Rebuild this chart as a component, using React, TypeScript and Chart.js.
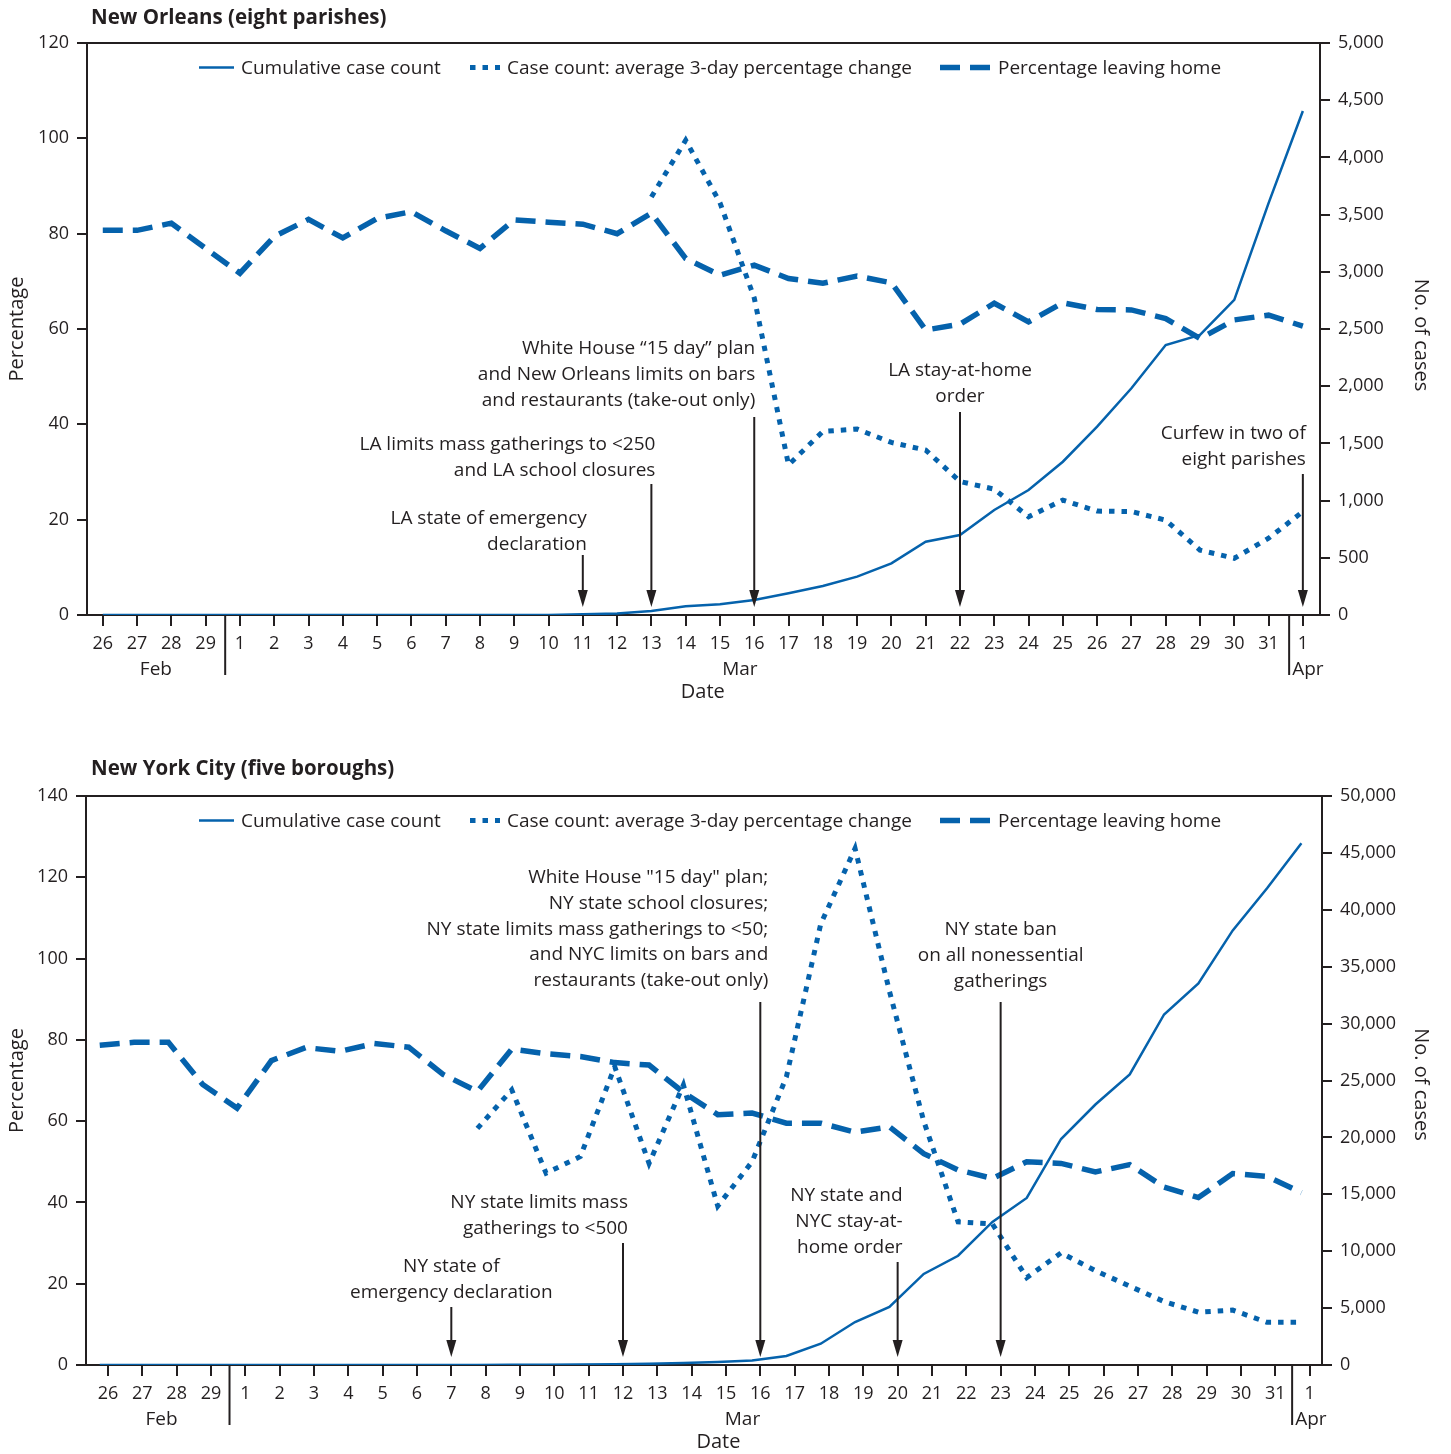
import React, { useEffect, useRef } from 'react';
import { Chart, registerables } from 'chart.js';

Chart.register(...registerables);

const FONT = '"Open Sans", sans-serif';
const INK = '#231f20';
const BLUE = '#0562ac';
const W = 1451;
const H = 727;

Chart.defaults.font.family = FONT;

// ---------- data ----------
const dateLabels = [
  '26', '27', '28', '29',
  '1', '2', '3', '4', '5', '6', '7', '8', '9', '10', '11', '12', '13', '14', '15', '16',
  '17', '18', '19', '20', '21', '22', '23', '24', '25', '26', '27', '28', '29', '30', '31',
  '1',
];
const seriesLabels = [
  'Cumulative case count',
  'Case count: average 3-day percentage change',
  'Percentage leaving home',
];

const noCumulative = [
  0, 0, 0, 0, 0, 0, 0, 0, 0, 0, 0, 0,
  1, 1, 7, 13, 36, 77, 93, 131, 190, 253, 335, 452, 641, 699, 918, 1093,
  1340, 1646, 1982, 2360, 2448, 2754, 3601, 4406,
];
const noChange: (number | null)[] = [
  null, null, null, null, null, null, null, null, null, null, null, null, null, null, null, null,
  87.7, 99.6, 86.5, 66.5, 31.5, 38.5, 39.0, 36.2, 34.6, 28.0, 26.4, 20.6, 24.1, 21.8, 21.7,
  19.9, 13.6, 11.9, 16.1, 21.7,
];
const noLeaving = [
  80.7, 80.7, 82.2, 76.9, 71.7, 79.4, 83.0, 79.1, 83.2, 84.6, 80.6, 76.9, 82.9, 82.4, 82.0,
  80.0, 84.3, 74.8, 71.3, 73.4, 70.6, 69.6, 71.1, 69.7, 59.8, 61.0, 65.4, 61.5, 65.5, 64.1,
  64.0, 62.2, 58.0, 61.9, 62.9, 60.6,
];

const nycCumulative = [
  0, 0, 0, 0, 0, 0, 1, 1, 2, 3, 5, 8, 12, 20, 36, 60, 110, 170, 270, 400,
  790, 1870, 3780, 5110, 8000, 9600, 12570, 14680, 19860, 22890, 25540, 30800,
  33530, 38190, 41900, 45850,
];
const nycChange: (number | null)[] = [
  null, null, null, null, null, null, null, null, null, null, null,
  58.2, 67.7, 47.2, 51.3, 73.4, 49.6, 68.9, 39.1, 50.0, 70.9, 108.5, 127.1, 92.0, 60.0,
  35.2, 34.7, 21.5, 27.6, 23.2, 19.4, 15.6, 13.0, 13.5, 10.5, 10.5,
];
const nycLeaving = [
  78.7, 79.4, 79.4, 69.0, 63.2, 74.9, 78.1, 77.2, 79.1, 78.2, 71.5, 67.3, 77.7, 76.6, 75.9,
  74.4, 73.8, 67.1, 61.6, 62.0, 59.5, 59.5, 57.3, 58.6, 52.0, 48.0, 45.9, 50.0, 49.6, 47.5,
  49.3, 43.8, 41.2, 47.1, 46.4, 42.4,
];

type Note = { at: number; lines: string[] };
const noNotes: Note[] = [
  { at: 14, lines: ['LA state of emergency', 'declaration'] },
  { at: 16, lines: ['LA limits mass gatherings to <250', 'and LA school closures'] },
  { at: 19, lines: ['White House \u201c15 day\u201d plan', 'and New Orleans limits on bars', 'and restaurants (take-out only)'] },
  { at: 25, lines: ['LA stay-at-home', 'order'] },
  { at: 35, lines: ['Curfew in two of', 'eight parishes'] },
];
const nycNotes: Note[] = [
  { at: 10, lines: ['NY state of', 'emergency declaration'] },
  { at: 15, lines: ['NY state limits mass', 'gatherings to <500'] },
  { at: 19, lines: ['White House "15 day" plan;', 'NY state school closures;', 'NY state limits mass gatherings to <50;', 'and NYC limits on bars and', 'restaurants (take-out only)'] },
  { at: 23, lines: ['NY state and', 'NYC stay-at-', 'home order'] },
  { at: 26, lines: ['NY state ban', 'on all nonessential', 'gatherings'] },
];

// ---------- layout (positions / styles) ----------
type NoteLayout = { y: number; align: CanvasTextAlign; dx: number; arrowTop: number };
const noNoteLayout: NoteLayout[] = [
  { y: 519, align: 'right', dx: 4, arrowTop: 555 },
  { y: 445, align: 'right', dx: 4, arrowTop: 484 },
  { y: 349, align: 'right', dx: 1, arrowTop: 417 },
  { y: 371, align: 'center', dx: 0, arrowTop: 412 },
  { y: 434, align: 'right', dx: 3, arrowTop: 474 },
];
const nycNoteLayout: NoteLayout[] = [
  { y: 540, align: 'center', dx: 0, arrowTop: 580 },
  { y: 476, align: 'right', dx: 5, arrowTop: 516 },
  { y: 151, align: 'right', dx: 8, arrowTop: 275 },
  { y: 469, align: 'right', dx: 5, arrowTop: 535 },
  { y: 203, align: 'center', dx: 0, arrowTop: 275 },
];

interface Panel {
  title: string;
  titleY: number;
  cumulative: number[];
  change: (number | null)[];
  leaving: number[];
  pctMax: number;
  caseMax: number;
  caseStep: number;
  notes: Note[];
  noteLayout: NoteLayout[];
  area: { top: number; left: number; right: number; bottom: number };
  tickRange: [number, number];
  dataRange: [number, number];
  febAt: number;
  marAt: number;
  dateAt: number;
  seps: [number, number];
  rightTitleDy: number;
}

const orleans: Panel = {
  title: 'New Orleans (eight parishes)',
  titleY: 18,
  cumulative: noCumulative,
  change: noChange,
  leaving: noLeaving,
  pctMax: 120,
  caseMax: 5000,
  caseStep: 500,
  notes: noNotes,
  noteLayout: noNoteLayout,
  area: { top: 43, left: 87, right: 1320, bottom: 615 },
  tickRange: [-0.46, 35.5],
  dataRange: [-0.46, 35.5],
  febAt: 1.55,
  marAt: 18.58,
  dateAt: 17.5,
  seps: [3.57, 34.6],
  rightTitleDy: 6,
};

const nyc: Panel = {
  title: 'New York City (five boroughs)',
  titleY: 42,
  cumulative: nycCumulative,
  change: nycChange,
  leaving: nycLeaving,
  pctMax: 140,
  caseMax: 50000,
  caseStep: 5000,
  notes: nycNotes,
  noteLayout: nycNoteLayout,
  area: { top: 69, left: 86, right: 1322, bottom: 638 },
  tickRange: [-0.64, 35.36],
  dataRange: [-0.4, 35.6],
  febAt: 1.56,
  marAt: 18.48,
  dateAt: 17.78,
  seps: [3.54, 34.49],
  rightTitleDy: 4,
};

const DASH_CHANGE = [5.5, 7];
const DASH_LEAVE = [20, 10];

function decor(p: Panel) {
  return {
    id: 'decor',
    afterDraw(chart: any) {
      const ctx: CanvasRenderingContext2D = chart.ctx;
      const a = chart.chartArea;
      const xs = chart.scales.x;
      ctx.save();
      ctx.strokeStyle = INK;
      ctx.fillStyle = INK;
      ctx.lineWidth = 2;
      ctx.setLineDash([]);

      // top frame line
      ctx.beginPath();
      ctx.moveTo(a.left - 1, a.top);
      ctx.lineTo(a.right + 1, a.top);
      ctx.stroke();

      // title
      ctx.font = `bold 20.5px ${FONT}`;
      ctx.textAlign = 'left';
      ctx.textBaseline = 'middle';
      ctx.fillText(p.title, 91, p.titleY);

      // axis titles
      const midY = (a.top + a.bottom) / 2;
      ctx.font = `20px ${FONT}`;
      ctx.textAlign = 'center';
      ctx.save();
      ctx.translate(17, midY);
      ctx.rotate(-Math.PI / 2);
      ctx.fillText('Percentage', 0, 0);
      ctx.restore();
      ctx.save();
      ctx.translate(1421, midY + p.rightTitleDy);
      ctx.rotate(Math.PI / 2);
      ctx.fillText('No. of cases', 0, 0);
      ctx.restore();

      // legend
      const ly = a.top + 25.5;
      const samples = [
        { x: 199, len: 35, tx: 241, dash: [] as number[], w: 2.5 },
        { x: 470, len: 30, tx: 507, dash: DASH_CHANGE, w: 5 },
        { x: 940, len: 50, tx: 998, dash: DASH_LEAVE, w: 5.5 },
      ];
      samples.forEach((s, i) => {
        ctx.save();
        ctx.strokeStyle = BLUE;
        ctx.lineWidth = s.w;
        ctx.setLineDash(s.dash);
        ctx.beginPath();
        ctx.moveTo(s.x, ly - 1);
        ctx.lineTo(s.x + s.len, ly - 1);
        ctx.stroke();
        ctx.restore();
        ctx.font = `19px ${FONT}`;
        ctx.textAlign = 'left';
        ctx.textBaseline = 'middle';
        ctx.fillText(seriesLabels[i], s.tx, ly);
      });

      // annotations
      const tipY = a.bottom - 8;
      p.notes.forEach((n, i) => {
        const L = p.noteLayout[i];
        const x = xs.getPixelForValue(n.at);
        ctx.font = `19px ${FONT}`;
        ctx.textAlign = L.align;
        ctx.textBaseline = 'middle';
        n.lines.forEach((t, k) => ctx.fillText(t, x + L.dx, L.y + k * 25.6));
        ctx.lineWidth = 2;
        ctx.beginPath();
        ctx.moveTo(x, L.arrowTop);
        ctx.lineTo(x, tipY - 14);
        ctx.stroke();
        ctx.beginPath();
        ctx.moveTo(x - 5, tipY - 17);
        ctx.lineTo(x + 5, tipY - 17);
        ctx.lineTo(x, tipY);
        ctx.closePath();
        ctx.fill();
      });

      // month separators and labels
      ctx.lineWidth = 2;
      p.seps.forEach((v) => {
        const x = xs.getPixelForValue(v);
        ctx.beginPath();
        ctx.moveTo(x, a.bottom);
        ctx.lineTo(x, a.bottom + 60);
        ctx.stroke();
      });
      ctx.font = `19px ${FONT}`;
      ctx.textBaseline = 'middle';
      ctx.textAlign = 'center';
      ctx.fillText('Feb', xs.getPixelForValue(p.febAt), a.bottom + 54.5);
      ctx.fillText('Mar', xs.getPixelForValue(p.marAt), a.bottom + 54.5);
      ctx.textAlign = 'left';
      ctx.fillText('Apr', xs.getPixelForValue(p.seps[1]) + 3, a.bottom + 54.5);
      ctx.font = `20px ${FONT}`;
      ctx.textAlign = 'center';
      ctx.fillText('Date', xs.getPixelForValue(p.dateAt), a.bottom + 77.5);
      ctx.restore();
    },
  };
}

function makeChart(canvas: HTMLCanvasElement, p: Panel) {
  const pts = (arr: (number | null)[]) => arr.map((y, i) => ({ x: i, y }));
  const tickFont = { size: 18, family: FONT };
  const axisGrid = { drawOnChartArea: false, drawTicks: true, tickLength: 10, lineWidth: 2, color: INK };
  const axisBorder = { display: true, color: INK, width: 2 };
  return new Chart(canvas, {
    type: 'line',
    data: {
      datasets: [
        {
          label: seriesLabels[0],
          data: pts(p.cumulative),
          xAxisID: 'xd',
          yAxisID: 'cases',
          borderColor: BLUE,
          backgroundColor: BLUE,
          borderWidth: 2.5,
          pointRadius: 0,
          tension: 0,
          fill: false,
        },
        {
          label: seriesLabels[1],
          data: pts(p.change),
          xAxisID: 'xd',
          yAxisID: 'pct',
          borderColor: BLUE,
          backgroundColor: BLUE,
          borderWidth: 5,
          borderDash: DASH_CHANGE,
          pointRadius: 0,
          tension: 0,
          fill: false,
        },
        {
          label: seriesLabels[2],
          data: pts(p.leaving),
          xAxisID: 'xd',
          yAxisID: 'pct',
          borderColor: BLUE,
          backgroundColor: BLUE,
          borderWidth: 5.5,
          borderDash: DASH_LEAVE,
          pointRadius: 0,
          tension: 0,
          fill: false,
        },
      ],
    },
    options: {
      animation: false,
      responsive: false,
      maintainAspectRatio: false,
      events: [],
      layout: { padding: { top: p.area.top, left: 0, right: 0, bottom: 0 } },
      plugins: { legend: { display: false }, tooltip: { enabled: false }, title: { display: false } },
      scales: {
        x: {
          type: 'linear',
          position: 'bottom',
          min: p.tickRange[0],
          max: p.tickRange[1],
          afterBuildTicks: (s: any) => {
            s.ticks = dateLabels.map((_, i) => ({ value: i }));
          },
          afterFit: (s: any) => {
            s.height = H - p.area.bottom;
          },
          grid: { ...axisGrid, tickLength: 11 },
          border: axisBorder,
          ticks: {
            autoSkip: false,
            maxRotation: 0,
            minRotation: 0,
            font: tickFont,
            color: INK,
            padding: 7.5,
            callback: (_v: any, i: number) => dateLabels[i],
          },
        },
        xd: { type: 'linear', display: false, min: p.dataRange[0], max: p.dataRange[1] },
        pct: {
          type: 'linear',
          position: 'left',
          min: 0,
          max: p.pctMax,
          afterFit: (s: any) => {
            s.width = p.area.left;
          },
          grid: axisGrid,
          border: axisBorder,
          ticks: { stepSize: 20, font: tickFont, color: INK, padding: 8 },
        },
        cases: {
          type: 'linear',
          position: 'right',
          min: 0,
          max: p.caseMax,
          afterFit: (s: any) => {
            s.width = W - p.area.right;
          },
          grid: axisGrid,
          border: axisBorder,
          ticks: {
            stepSize: p.caseStep,
            font: tickFont,
            color: INK,
            padding: 8,
            callback: (v: any) => Number(v).toLocaleString('en-US'),
          },
        },
      },
    } as any,
    plugins: [decor(p)],
  });
}

export default function App() {
  const topRef = useRef<HTMLCanvasElement>(null);
  const botRef = useRef<HTMLCanvasElement>(null);
  useEffect(() => {
    const charts = [makeChart(topRef.current!, orleans), makeChart(botRef.current!, nyc)];
    return () => charts.forEach((c) => c.destroy());
  }, []);
  return (
    <div style={{ position: 'absolute', left: 0, top: 0, width: W, height: 2 * H, background: '#fff' }}>
      <canvas ref={topRef} width={W} height={H} style={{ position: 'absolute', left: 0, top: 0, width: W, height: H }} />
      <canvas ref={botRef} width={W} height={H} style={{ position: 'absolute', left: 0, top: H, width: W, height: H }} />
    </div>
  );
}
